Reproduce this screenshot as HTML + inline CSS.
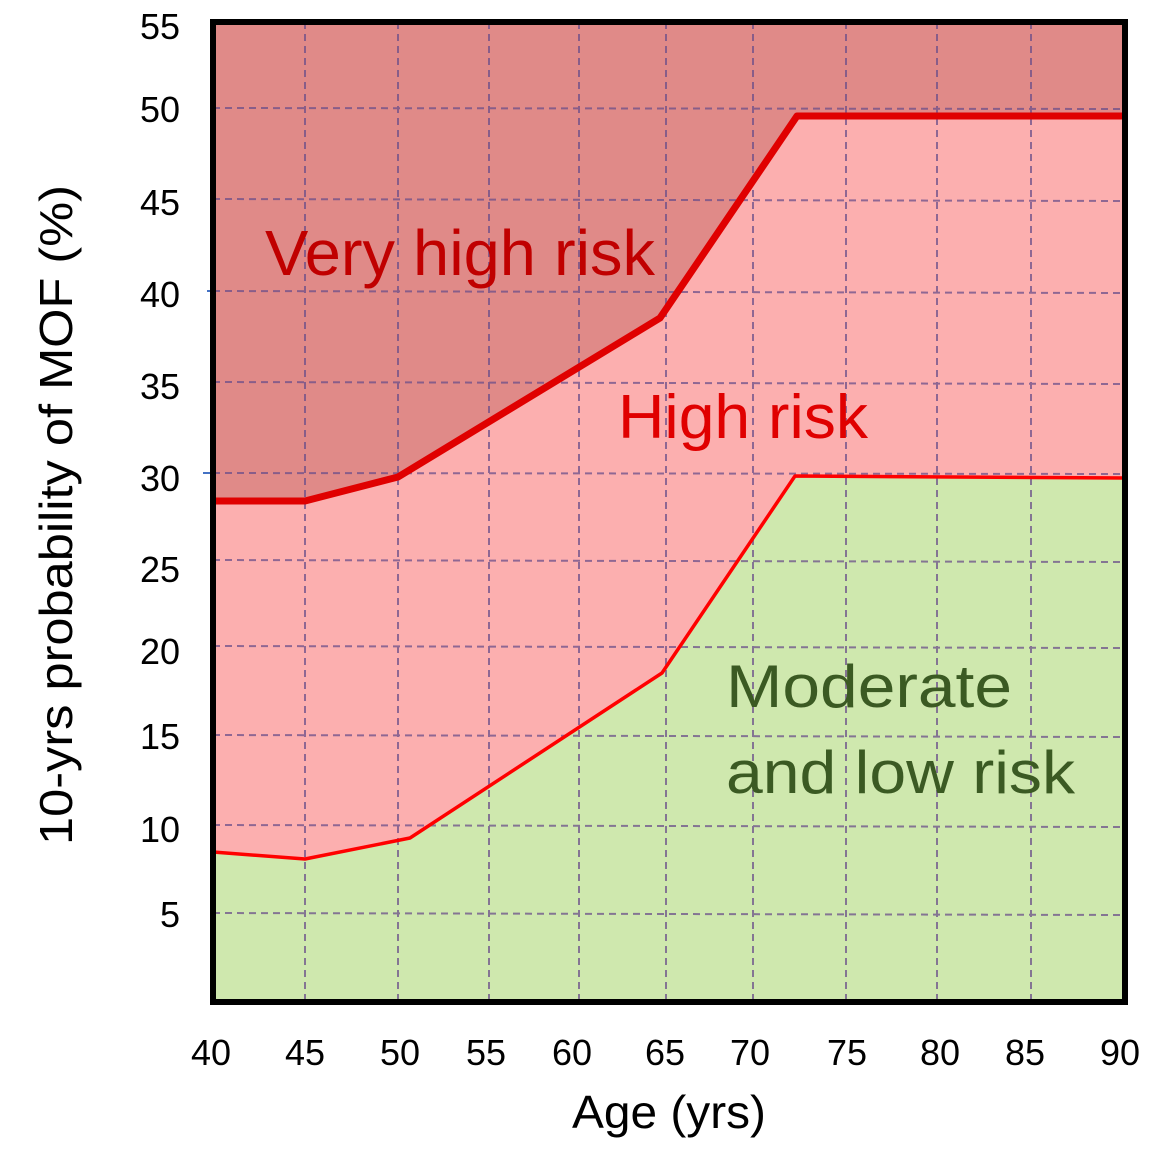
<!DOCTYPE html>
<html><head><meta charset="utf-8"><style>html,body{margin:0;padding:0;background:#fff}</style></head>
<body>
<svg width="1160" height="1161" xmlns="http://www.w3.org/2000/svg" font-family="'Liberation Sans', sans-serif">
<rect x="0" y="0" width="1160" height="1161" fill="#fff"/>
<rect x="213" y="22" width="912" height="980" fill="#cfe8ae"/>
<polygon points="213,22 1125,22 1125,478 795,476 662,673 410,838 305,859 213,852" fill="#fcafaf"/>
<polygon points="213,22 1125,22 1125,116 797,116 660,318 398,477 305,501 213,501" fill="#e08a88"/>
<g stroke="#6b4f8a" stroke-width="2" stroke-dasharray="7,5" opacity="0.75">
<line x1="305" y1="22" x2="305" y2="1002"/><line x1="398" y1="22" x2="398" y2="1002"/>
<line x1="489" y1="22" x2="489" y2="1002"/><line x1="579" y1="22" x2="579" y2="1002"/>
<line x1="666" y1="22" x2="666" y2="1002"/><line x1="753" y1="22" x2="753" y2="1002"/>
<line x1="846" y1="22" x2="846" y2="1002"/><line x1="937" y1="22" x2="937" y2="1002"/>
<line x1="1031" y1="22" x2="1031" y2="1002"/>
<line x1="213" y1="108" x2="1125" y2="109"/><line x1="213" y1="199" x2="1125" y2="201"/>
<line x1="213" y1="291" x2="1125" y2="293"/><line x1="213" y1="382" x2="1125" y2="384"/>
<line x1="213" y1="473" x2="1125" y2="474"/><line x1="213" y1="560" x2="1125" y2="562"/>
<line x1="213" y1="646" x2="1125" y2="648"/><line x1="213" y1="735" x2="1125" y2="737"/>
<line x1="213" y1="825" x2="1125" y2="827"/><line x1="213" y1="913" x2="1125" y2="915"/>
</g>
<line x1="203" y1="473" x2="213" y2="473" stroke="#4472c4" stroke-width="2"/>
<line x1="207" y1="291" x2="213" y2="291" stroke="#4472c4" stroke-width="2"/>
<polyline points="213,501 305,501 398,477 660,318 797,116 1125,116" fill="none" stroke="#e00000" stroke-width="7" stroke-linejoin="round"/>
<polyline points="213,852 305,859 410,838 662,673 795,476 1125,478" fill="none" stroke="#ff0000" stroke-width="3.5" stroke-linejoin="round"/>
<rect x="213" y="22" width="912" height="980" fill="none" stroke="#000" stroke-width="6"/>
<text x="265" y="275" font-size="64" fill="#c00000" textLength="390" lengthAdjust="spacingAndGlyphs">Very high risk</text>
<text x="618" y="438" font-size="62" fill="#e00000" textLength="250" lengthAdjust="spacingAndGlyphs">High risk</text>
<text x="726" y="707" font-size="60" fill="#3b5a23" textLength="286" lengthAdjust="spacingAndGlyphs">Moderate</text>
<text x="726" y="793" font-size="60" fill="#3b5a23" textLength="349" lengthAdjust="spacingAndGlyphs">and low risk</text>
<g font-size="36" fill="#000" text-anchor="end">
<text x="180" y="39">55</text><text x="180" y="122">50</text><text x="180" y="215">45</text>
<text x="180" y="307">40</text><text x="180" y="399">35</text><text x="180" y="491">30</text>
<text x="180" y="582">25</text><text x="180" y="664">20</text><text x="180" y="749">15</text>
<text x="180" y="842">10</text><text x="180" y="927">5</text>
</g>
<g font-size="36" fill="#000" text-anchor="middle">
<text x="211" y="1065">40</text><text x="305" y="1065">45</text><text x="400" y="1065">50</text>
<text x="486" y="1065">55</text><text x="572" y="1065">60</text><text x="665" y="1065">65</text>
<text x="750" y="1065">70</text><text x="847" y="1065">75</text><text x="940" y="1065">80</text>
<text x="1025" y="1065">85</text><text x="1120" y="1065">90</text>
</g>
<text x="572" y="1128" font-size="46" fill="#000" textLength="194" lengthAdjust="spacingAndGlyphs">Age (yrs)</text>
<text transform="translate(72,845) rotate(-90)" font-size="46" fill="#000" textLength="660" lengthAdjust="spacingAndGlyphs">10-yrs probability of MOF (%)</text>
</svg>
</body></html>
